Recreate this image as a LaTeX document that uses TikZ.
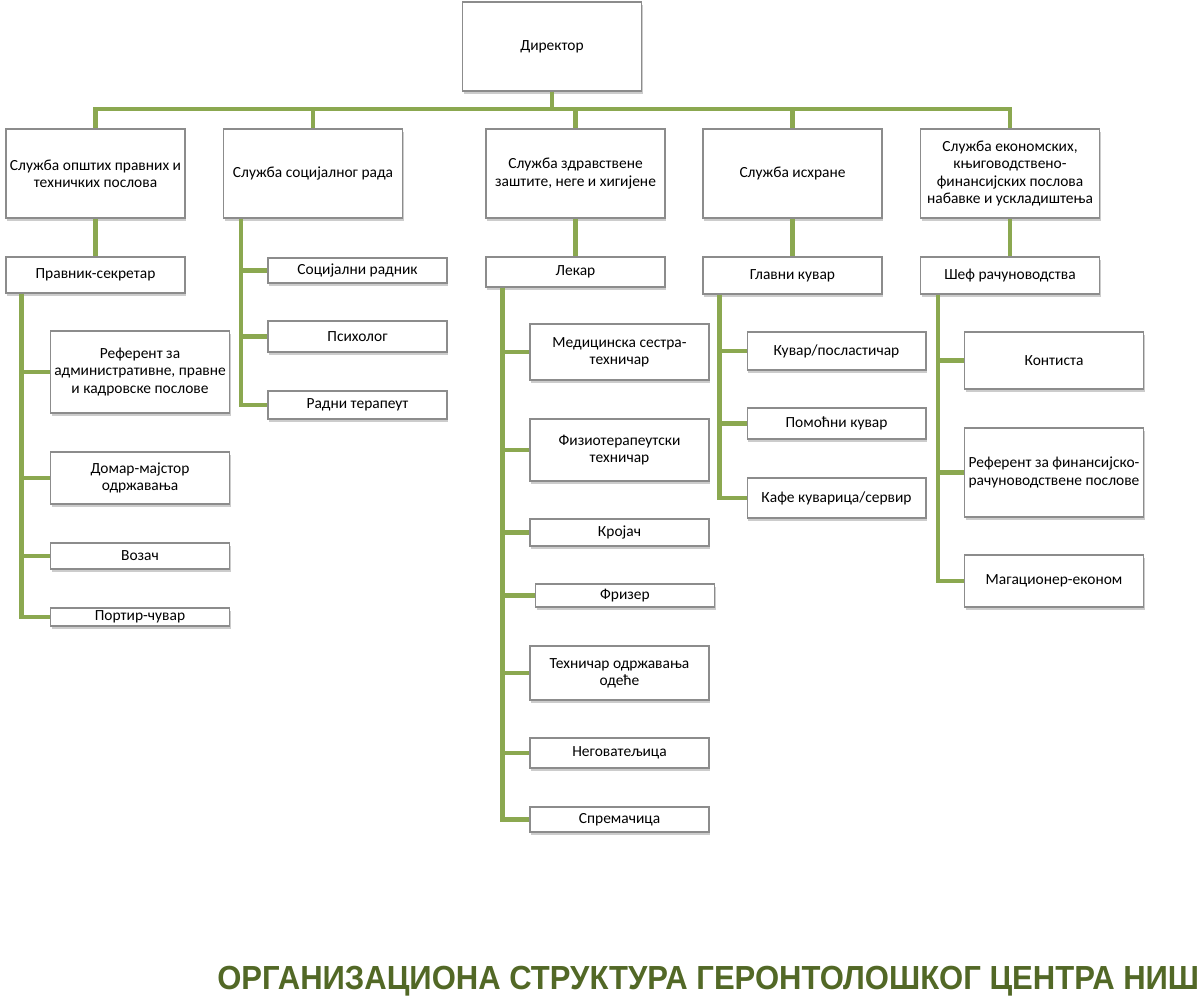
\documentclass[tikz,border=0pt]{standalone}
\usepackage{graphicx}
\usepackage{fontspec}
\setmainfont{Carlito}
\newfontfamily\titlefont{Liberation Sans}
\usetikzlibrary{shadows}
\definecolor{olivelink}{RGB}{139,168,80}
\definecolor{olivetitle}{RGB}{82,104,38}
\definecolor{boxline}{RGB}{140,140,140}
\tikzset{
  unit/.style={draw=boxline, line width=0.6pt, fill=white, minimum width=3.58cm,
    inner xsep=1pt, inner ysep=0.5pt, align=center,
    font=\fontsize{8.8}{9.8}\selectfont,
    drop shadow={shadow xshift=0.6pt, shadow yshift=-1.6pt, fill=black!40, opacity=0.5}},
  link/.style={draw=olivelink, line width=2.3pt},
}
\begin{document}
\begin{tikzpicture}[x=0.02cm, y=-0.02cm]%{{{
\useasboundingbox (0,0) rectangle (1200,995);
%
% Director
\node[unit, minimum height=1.78cm] (dir) at (552,46.5) {Директор};
%
% Sluzbe
\node[unit, minimum height=1.78cm] (s1) at (95.5,173.5) {Служба општих правних и\\техничких послова};
\node[unit, minimum height=1.78cm] (s2) at (313,173.5)  {Служба социјалног рада};
\node[unit, minimum height=1.78cm] (s3) at (575.5,173.5) {Служба здравствене\\заштите, неге и хигијене};
\node[unit, minimum height=1.78cm] (s4) at (792.5,173.5) {Служба исхране};
\node[unit, minimum height=1.78cm] (s5) at (1010,173.5) {Служба економских,\\књиговодствено-\\финансијских послова\\набавке и ускладиштења};
%
% Rukovodioci
\node[unit, minimum height=0.72cm] (p1) at (95.5,275)  {Правник-секретар};
\node[unit, minimum height=0.60cm] (p3) at (575.5,272) {Лекар};
\node[unit, minimum height=0.74cm] (p4) at (792.5,275.5) {Главни кувар};
\node[unit, minimum height=0.74cm] (p5) at (1010,275.5) {Шеф рачуноводства};
%
% Opsti poslovi
\node[unit, minimum height=1.64cm] (a1) at (140,372) {Референт за\\административне, правне\\и кадровске послове};
\node[unit, minimum height=1.04cm] (a2) at (140,478) {Домар-мајстор\\одржавања};
\node[unit, minimum height=0.52cm] (a3) at (140,556) {Возач};
\node[unit, minimum height=0.36cm] (a4) at (140,617) {Портир-чувар};
%
% Socijalni rad
\node[unit, minimum height=0.50cm] (b1) at (357.5,270.5) {Социјални радник};
\node[unit, minimum height=0.62cm] (b2) at (357.5,336.5) {Психолог};
\node[unit, minimum height=0.56cm] (b3) at (357.5,405)   {Радни терапеут};
%
% Zdravstvena zastita
\node[unit, minimum height=1.12cm] (c1) at (619.5,352)   {Медицинска сестра-\\техничар};
\node[unit, minimum height=1.24cm] (c2) at (619.5,450)   {Физиотерапеутски\\техничар};
\node[unit, minimum height=0.54cm] (c3) at (619.5,532.5) {Кројач};
\node[unit, minimum height=0.46cm] (c4) at (625,595.5)   {Фризер};
\node[unit, minimum height=1.08cm] (c5) at (619.5,673)   {Техничар одржавања\\одеће};
\node[unit, minimum height=0.60cm] (c6) at (619.5,753)   {Неговатељица};
\node[unit, minimum height=0.50cm] (c7) at (619.5,819.5) {Спремачица};
%
% Ishrana
\node[unit, minimum height=0.76cm] (d1) at (836.5,351)   {Кувар/посластичар};
\node[unit, minimum height=0.62cm] (d2) at (836.5,423.5) {Помоћни кувар};
\node[unit, minimum height=0.80cm] (d3) at (836.5,498)   {Кафе куварица/сервир};
%
% Racunovodstvo
\node[unit, minimum height=1.14cm] (e1) at (1054,360.5) {Контиста};
\node[unit, minimum height=1.78cm] (e2) at (1054,472.5) {Референт за финансијско-\\рачуноводствене послове};
\node[unit, minimum height=1.04cm] (e3) at (1054,581)   {Магационер-економ};
%
% Veze
\coordinate (bar) at (552,109);
\draw[link] (dir) -- (bar);
\foreach \s in {s1,s2,s3,s4,s5} \draw[link] (bar) -| (\s.north);
\foreach \s/\p in {s1/p1,s3/p3,s4/p4,s5/p5} \draw[link] (\s) -- (\p);
%
\coordinate (t1) at ([xshift=0.32cm]p1.south west);
\coordinate (t2) at ([xshift=0.36cm]s2.south west);
\coordinate (t3) at ([xshift=0.34cm]p3.south west);
\coordinate (t4) at ([xshift=0.34cm]p4.south west);
\coordinate (t5) at ([xshift=0.36cm]p5.south west);
\foreach \c in {a1,a2,a3,a4} \draw[link] (t1) |- (\c.west);
\foreach \c in {b1,b2,b3} \draw[link] (t2) |- (\c.west);
\foreach \c in {c1,c2,c3,c4,c5,c6,c7} \draw[link] (t3) |- (\c.west);
\foreach \c in {d1,d2,d3} \draw[link] (t4) |- (\c.west);
\foreach \c in {e1,e2,e3} \draw[link] (t5) |- (\c.west);
%
% Naslov
\node[anchor=base west, inner sep=0pt, text=olivetitle] (title) at (217,989)
  {\resizebox{19.64cm}{\height}{\titlefont\bfseries\fontsize{19}{19}\selectfont ОРГАНИЗАЦИОНА СТРУКТУРА ГЕРОНТОЛОШКОГ ЦЕНТРА НИШ}};
%
\end{tikzpicture}
\end{document}
